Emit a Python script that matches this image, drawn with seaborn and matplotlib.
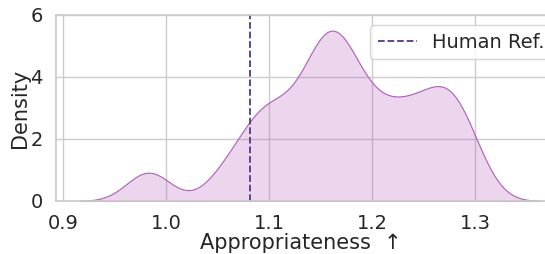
import numpy as np
import pandas as pd
import matplotlib
matplotlib.use("Agg")
import matplotlib.pyplot as plt
import seaborn as sns

# appropriateness scores
scores = [
    0.978, 0.988,
    1.055, 1.068,
    1.085, 1.09, 1.095,
    1.10, 1.108,
    1.118, 1.126, 1.134,
    1.14, 1.145, 1.15, 1.153, 1.156, 1.16, 1.163, 1.166, 1.17, 1.174, 1.178,
    1.183, 1.19, 1.197,
    1.205, 1.213,
    1.22, 1.228, 1.235, 1.242, 1.25, 1.257, 1.263,
    1.27, 1.275, 1.28, 1.285, 1.29, 1.302,
]
human_ref = 1.0816

df = pd.DataFrame({"Appropriateness": scores})

sns.set_theme(style="whitegrid")
plt.rcParams.update({
    "xtick.labelsize": 14,
    "ytick.labelsize": 14,
    "axes.labelsize": 15,
    "legend.fontsize": 14,
})

fig, ax = plt.subplots(figsize=(5.45, 2.54), dpi=100)
sns.kdeplot(data=df, x="Appropriateness", fill=True, color="#b05cb8",
            alpha=0.25, linewidth=0.8, bw_adjust=0.55, ax=ax)
ax.axvline(human_ref, color="#55368c", linestyle="--", linewidth=1.3,
           label="Human Ref.")

ax.set_xlim(0.893, 1.368)
ax.set_ylim(0, 6)
ax.set_xticks([0.9, 1.0, 1.1, 1.2, 1.3])
ax.set_yticks([0, 2, 4, 6])
ax.set_xlabel("Appropriateness  ↑", labelpad=0)
ax.set_ylabel("Density", labelpad=0)
ax.spines["right"].set_visible(False)
ax.legend(loc="upper right", bbox_to_anchor=(1.035, 1.0))

fig.subplots_adjust(left=56 / 545, right=1.0, bottom=53 / 254, top=239 / 254)
fig.savefig("out.png", dpi=100)
